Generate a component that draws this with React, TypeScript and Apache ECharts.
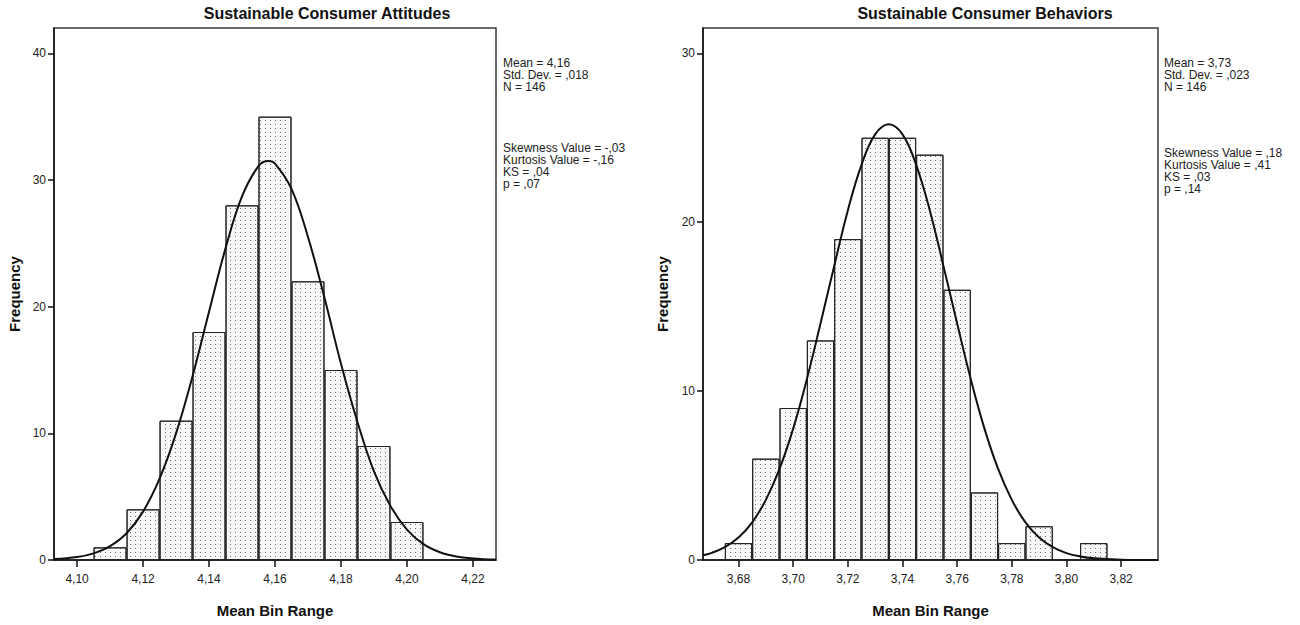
import React, { useEffect, useRef } from "react";
import * as echarts from "echarts";

// ---- Data ----
const attBinCenters = [4.11, 4.12, 4.13, 4.14, 4.15, 4.16, 4.17, 4.18, 4.19, 4.2];
const attFreq = [1, 4, 11, 18, 28, 35, 22, 15, 9, 3];
const attCurveX = [4.093, 4.1, 4.105, 4.11, 4.115, 4.12, 4.125, 4.13, 4.135, 4.14, 4.145, 4.15, 4.155, 4.158, 4.16, 4.165, 4.17, 4.175, 4.18, 4.185, 4.19, 4.195, 4.2, 4.205, 4.21, 4.215, 4.22, 4.227];
const attCurveY = [0.07, 0.23, 0.52, 1.09, 2.11, 3.82, 6.42, 10.0, 14.5, 19.6, 24.6, 28.7, 31.1, 31.5, 31.3, 29.3, 25.5, 20.7, 15.5, 10.9, 7.0, 4.27, 2.4, 1.25, 0.61, 0.27, 0.12, 0.03];
const attXTicks = [4.1, 4.12, 4.14, 4.16, 4.18, 4.2, 4.22];
const attYTicks = [0, 10, 20, 30, 40];
const attStats1 = ["Mean = 4,16", "Std. Dev. = ,018", "N = 146"];
const attStats2 = ["Skewness Value = -,03", "Kurtosis Value = -,16", "KS = ,04", "p = ,07"];

const behBinCenters = [3.68, 3.69, 3.7, 3.71, 3.72, 3.73, 3.74, 3.75, 3.76, 3.77, 3.78, 3.79, 3.8, 3.81];
const behFreq = [1, 6, 9, 13, 19, 25, 25, 24, 16, 4, 1, 2, 0, 1];
const behCurveX = [3.667, 3.67, 3.675, 3.68, 3.685, 3.69, 3.695, 3.7, 3.705, 3.71, 3.715, 3.72, 3.725, 3.73, 3.735, 3.74, 3.745, 3.75, 3.755, 3.76, 3.765, 3.77, 3.775, 3.78, 3.785, 3.79, 3.795, 3.8, 3.805, 3.81, 3.82, 3.8335];
const behCurveY = [0.28, 0.41, 0.76, 1.33, 2.23, 3.56, 5.39, 7.78, 10.7, 14.0, 17.4, 20.7, 23.4, 25.2, 25.8, 25.2, 23.4, 20.7, 17.4, 14.0, 10.7, 7.78, 5.39, 3.56, 2.23, 1.33, 0.76, 0.41, 0.21, 0.1, 0.02, 0.0];
const behXTicks = [3.68, 3.7, 3.72, 3.74, 3.76, 3.78, 3.8, 3.82];
const behYTicks = [0, 10, 20, 30];
const behStats1 = ["Mean = 3,73", "Std. Dev. = ,023", "N = 146"];
const behStats2 = ["Skewness Value = ,18", "Kurtosis Value = ,41", "KS = ,03", "p = ,14"];

const titles = ["Sustainable Consumer Attitudes", "Sustainable Consumer Behaviors"];

const FONT = "'Liberation Sans', Arial, sans-serif";
const BIN = 0.01;

const fmt = (v: number) => v.toFixed(2).replace(".", ",");

export default function App() {
  const ref = useRef<HTMLDivElement>(null);

  useEffect(() => {
    if (!ref.current) return;
    const chart = echarts.init(ref.current, null, { renderer: "svg" });

    const grids = [
      { left: 54, top: 28, width: 442, height: 532, xMin: 4.093, xMax: 4.227, yMax: 42 },
      { left: 703, top: 28, width: 455, height: 532, xMin: 3.667, xMax: 3.8335, yMax: 31.5 },
    ];
    const xTicks = [attXTicks, behXTicks];
    const yTicks = [attYTicks, behYTicks];
    const bins = [attBinCenters, behBinCenters];
    const freqs = [attFreq, behFreq];
    const cx = [attCurveX, behCurveX];
    const cy = [attCurveY, behCurveY];
    const yNameGap = [32, 33];

    const decal = {
      symbol: "rect",
      symbolSize: 1,
      dashArrayX: [1, 4],
      dashArrayY: [1, 3],
      color: "#6f6f6f",
      rotation: 0,
    };

    const option: any = {
      animation: false,
      backgroundColor: "#fff",
      grid: grids.map((g) => ({
        left: g.left,
        top: g.top,
        width: g.width,
        height: g.height,
        show: true,
        borderColor: "#3a3a3a",
        borderWidth: 1.5,
        backgroundColor: "transparent",
      })),
      xAxis: grids.map((g, i) => ({
        type: "value",
        gridIndex: i,
        min: g.xMin,
        max: g.xMax,
        name: "Mean Bin Range",
        nameLocation: "middle",
        nameGap: 43,
        nameTextStyle: { fontFamily: FONT, fontWeight: "bold", fontSize: 15, color: "#111" },
        axisLine: { show: true, lineStyle: { color: "#111", width: 1.5 } },
        axisTick: { show: true, length: 7, lineStyle: { color: "#111", width: 1.5 }, customValues: xTicks[i] },
        axisLabel: {
          customValues: xTicks[i],
          formatter: (v: number) => fmt(v),
          fontFamily: FONT,
          fontSize: 12,
          color: "#222",
          margin: 13,
        },
        splitLine: { show: false },
      })),
      yAxis: grids.map((g, i) => ({
        type: "value",
        gridIndex: i,
        min: 0,
        max: g.yMax,
        name: "Frequency",
        nameLocation: "middle",
        nameGap: yNameGap[i],
        nameTextStyle: { fontFamily: FONT, fontWeight: "bold", fontSize: 15, color: "#111" },
        axisLine: { show: true, lineStyle: { color: "#111", width: 1.5 } },
        axisTick: { show: true, length: 6, lineStyle: { color: "#111", width: 1.5 }, customValues: yTicks[i] },
        axisLabel: {
          customValues: yTicks[i],
          fontFamily: FONT,
          fontSize: 12,
          color: "#222",
          margin: 8,
        },
        splitLine: { show: false },
      })),
      series: [
        ...grids.map((g, i) => ({
          type: "bar",
          xAxisIndex: i,
          yAxisIndex: i,
          barWidth: (BIN / (g.xMax - g.xMin)) * g.width,
          barGap: "-100%",
          data: bins[i].map((b, k) => [b, freqs[i][k]]),
          itemStyle: {
            color: "#f8f8f8",
            borderColor: "#222",
            borderWidth: 1,
            decal,
          },
          z: 2,
        })),
        ...grids.map((g, i) => ({
          type: "line",
          xAxisIndex: i,
          yAxisIndex: i,
          smooth: 0.4,
          symbol: "none",
          data: cx[i].map((x, k) => [x, cy[i][k]]),
          lineStyle: { color: "#111", width: 2 },
          z: 5,
        })),
      ],
      graphic: [
        { type: "text", x: 327, y: 13, style: { text: titles[0], textAlign: "center", textVerticalAlign: "middle", font: `bold 16px ${FONT}`, fill: "#111" } },
        { type: "text", x: 985, y: 13, style: { text: titles[1], textAlign: "center", textVerticalAlign: "middle", font: `bold 16px ${FONT}`, fill: "#111" } },
        ...attStats1.map((t, k) => ({ type: "text", x: 503, y: 63 + k * 12, style: { text: t, textVerticalAlign: "middle", font: `12px ${FONT}`, fill: "#222" } })),
        ...attStats2.map((t, k) => ({ type: "text", x: 503, y: 148 + k * 12, style: { text: t, textVerticalAlign: "middle", font: `12px ${FONT}`, fill: "#222" } })),
        ...behStats1.map((t, k) => ({ type: "text", x: 1164, y: 63 + k * 12, style: { text: t, textVerticalAlign: "middle", font: `12px ${FONT}`, fill: "#222" } })),
        ...behStats2.map((t, k) => ({ type: "text", x: 1164, y: 153 + k * 12, style: { text: t, textVerticalAlign: "middle", font: `12px ${FONT}`, fill: "#222" } })),
      ],
    };

    chart.setOption(option);
    return () => chart.dispose();
  }, []);

  return (
    <div
      ref={ref}
      style={{ position: "fixed", left: 0, top: 0, width: 1300, height: 625, background: "#fff" }}
    />
  );
}
